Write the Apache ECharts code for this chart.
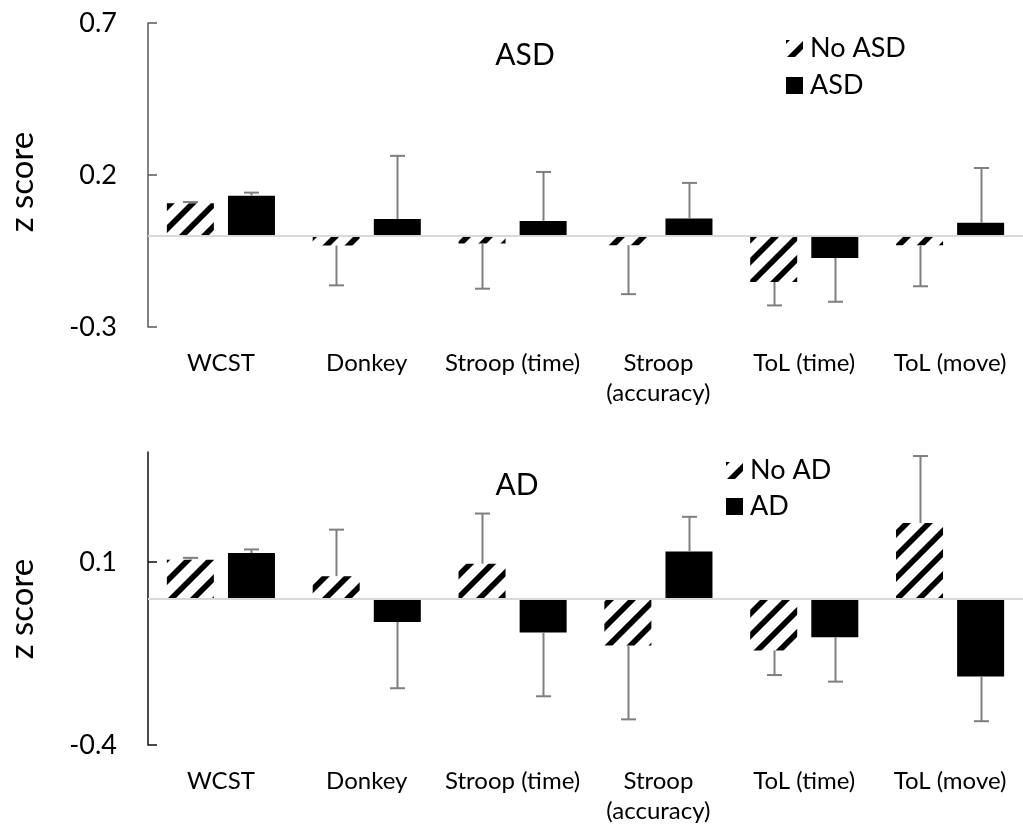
<!DOCTYPE html>
<html>
<head>
<meta charset="utf-8">
<script src="https://cdn.jsdelivr.net/npm/echarts@6/dist/echarts.min.js"></script>
<style>
html,body{margin:0;padding:0;background:#fff;}
#chart{width:1023px;height:827px;}
</style>
</head>
<body>
<div id="chart"></div>
<script>
// ---------- data ----------
const categories = ['WCST', 'Donkey', 'Stroop (time)', 'Stroop\n(accuracy)', 'ToL (time)', 'ToL (move)'];

// Top panel: ASD
const noAsdValues = [0.107, -0.032, -0.025, -0.031, -0.152, -0.031];
const noAsdErrors = [0.004, 0.131, 0.149, 0.161, 0.077, 0.135];
const asdValues   = [0.132, 0.055, 0.049, 0.057, -0.073, 0.043];
const asdErrors   = [0.010, 0.208, 0.161, 0.117, 0.144, 0.180];

// Bottom panel: AD
const noAdValues = [0.106, 0.061, 0.095, -0.128, -0.142, 0.206];
const noAdErrors = [0.005, 0.127, 0.137, 0.202, 0.067, 0.183];
const adValues   = [0.124, -0.064, -0.093, 0.128, -0.106, -0.213];
const adErrors   = [0.010, 0.181, 0.174, 0.095, 0.121, 0.122];

const topTicks = [-0.3, 0.2, 0.7];
const bottomTicks = [-0.4, 0.1];

// ---------- styling ----------
const FONT = 'Lato';
const BAR_W = 47;
const BAR_GAP = 0.3;
const OFFSET = (BAR_W + BAR_W * BAR_GAP) / 2;

function makeHatch() {
  const T = 22;
  const c = document.createElement('canvas');
  c.width = T; c.height = T;
  const ctx = c.getContext('2d');
  ctx.fillStyle = '#fff';
  ctx.fillRect(0, 0, T, T);
  ctx.strokeStyle = '#000';
  ctx.lineWidth = 5.7;
  ctx.lineCap = 'square';
  [-T, 0, T].forEach(o => {
    ctx.beginPath();
    ctx.moveTo(o - 2, T + 2);
    ctx.lineTo(o + T + 2, -2);
    ctx.stroke();
  });
  return c;
}
const hatch = { image: makeHatch(), repeat: 'repeat' };

function errSeries(name, gi, vals, errs, side) {
  return {
    type: 'custom',
    name: name,
    xAxisIndex: gi, yAxisIndex: gi,
    z: 5,
    silent: true,
    data: vals.map((v, i) => [i, v, errs[i]]),
    renderItem: function (params, api) {
      const v = api.value(1), e = api.value(2);
      const end = v >= 0 ? v + e : v - e;
      const p0 = api.coord([api.value(0), v]);
      const p1 = api.coord([api.value(0), end]);
      const x = Math.round(p0[0] + side * OFFSET) + 0.5;
      const st = { stroke: '#7f7f7f', lineWidth: 2 };
      return {
        type: 'group',
        children: [
          { type: 'line', shape: { x1: x, y1: p0[1], x2: x, y2: p1[1] }, style: st },
          { type: 'line', shape: { x1: x - 7.5, y1: p1[1], x2: x + 7.5, y2: p1[1] }, style: st }
        ]
      };
    }
  };
}

function barSeries(name, gi, vals, color, withZero) {
  const s = {
    type: 'bar',
    name: name,
    xAxisIndex: gi, yAxisIndex: gi,
    data: vals,
    barWidth: BAR_W,
    barGap: (BAR_GAP * 100) + '%',
    itemStyle: { color: color },
    silent: true
  };
  if (withZero) {
    s.markLine = {
      silent: true, symbol: 'none', z: 4,
      label: { show: false },
      lineStyle: { color: '#d9d9d9', width: 2, type: 'solid' },
      data: [{ yAxis: 0 }]
    };
  }
  return s;
}

function xAxis(gi) {
  return {
    type: 'category', gridIndex: gi, data: categories,
    position: 'bottom',
    axisLine: { show: false, onZero: false },
    axisTick: { show: false },
    axisLabel: { interval: 0, margin: 21, color: '#000', fontFamily: FONT, fontSize: 24, lineHeight: 30 }
  };
}

function yAxis(gi, min, max, ticks, lineColor) {
  return {
    type: 'value', gridIndex: gi, min: min, max: max, interval: 0.5,
    splitLine: { show: false },
    axisLine: { show: true, lineStyle: { color: lineColor, width: 1.5 } },
    axisTick: { show: true, inside: true, length: 9, customValues: ticks, lineStyle: { color: lineColor, width: 1.5 } },
    axisLabel: { customValues: ticks, margin: 31, color: '#000', fontFamily: FONT, fontSize: 27,
      formatter: v => (Math.round(v * 10) / 10).toFixed(1) }
  };
}

const chart = echarts.init(document.getElementById('chart'), null, { renderer: 'canvas' });
chart.setOption({
  animation: false,
  backgroundColor: '#fff',
  grid: [
    { left: 148, top: 23, width: 879, height: 304 },
    { left: 148, top: 452, width: 879, height: 293 }
  ],
  title: [
    { text: 'ASD', left: 520, top: 35, textAlign: 'center', textStyle: { fontFamily: FONT, fontWeight: 'normal', fontSize: 30, color: '#000' } },
    { text: 'AD', left: 512, top: 465, textAlign: 'center', textStyle: { fontFamily: FONT, fontWeight: 'normal', fontSize: 30, color: '#000' } }
  ],
  legend: [
    { data: ['No ASD', 'ASD'], orient: 'vertical', left: 781, top: 30, itemWidth: 17, itemHeight: 17, itemGap: 10,
      icon: 'rect', selectedMode: false,
      textStyle: { fontFamily: FONT, fontSize: 27, color: '#000', padding: [0, 0, 0, 2] } },
    { data: ['No AD', 'AD'], orient: 'vertical', left: 721, top: 452, itemWidth: 17, itemHeight: 17, itemGap: 9,
      icon: 'rect', selectedMode: false,
      textStyle: { fontFamily: FONT, fontSize: 27, color: '#000', padding: [0, 0, 0, 2] } }
  ],
  xAxis: [xAxis(0), xAxis(1)],
  yAxis: [
    yAxis(0, -0.3, 0.7, topTicks, '#595959'),
    yAxis(1, -0.4, 0.4, bottomTicks, '#111')
  ],
  graphic: [
    { type: 'text', x: 22, y: 182, rotation: Math.PI / 2,
      style: { text: 'z score', fontFamily: FONT, fontSize: 33, fill: '#000', align: 'center', verticalAlign: 'middle' } },
    { type: 'text', x: 22, y: 609, rotation: Math.PI / 2,
      style: { text: 'z score', fontFamily: FONT, fontSize: 33, fill: '#000', align: 'center', verticalAlign: 'middle' } }
  ],
  series: [
    barSeries('No ASD', 0, noAsdValues, hatch, true),
    barSeries('ASD', 0, asdValues, '#000', false),
    errSeries('errNoASD', 0, noAsdValues, noAsdErrors, -1),
    errSeries('errASD', 0, asdValues, asdErrors, 1),
    barSeries('No AD', 1, noAdValues, hatch, true),
    barSeries('AD', 1, adValues, '#000', false),
    errSeries('errNoAD', 1, noAdValues, noAdErrors, -1),
    errSeries('errAD', 1, adValues, adErrors, 1)
  ]
});
</script>
</body>
</html>
